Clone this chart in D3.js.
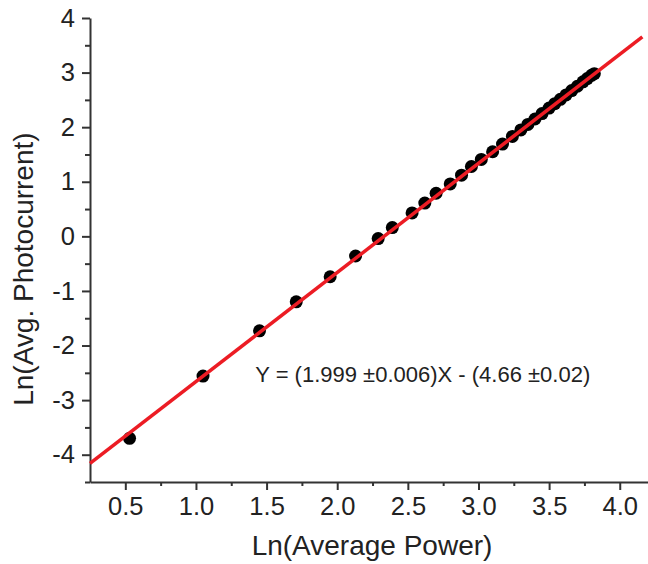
<!DOCTYPE html>
<html>
<head>
<meta charset="utf-8">
<script src="https://cdn.jsdelivr.net/npm/d3@7"></script>
<style>
  body { margin: 0; background: #fff; }
  svg text { font-family: "Liberation Sans", Arial, sans-serif; fill: #222; }
</style>
</head>
<body>
<div id="graph-container"></div>
<script>
// Data: Ln(average power) vs Ln(avg. photocurrent)
const lnPower = [0.53, 1.05, 1.45, 1.71, 1.95, 2.13, 2.29, 2.39, 2.53, 2.62, 2.70, 2.80, 2.88, 2.95,
    3.02, 3.10, 3.17, 3.24, 3.30, 3.35, 3.40, 3.45, 3.50, 3.54, 3.58, 3.62, 3.66, 3.70, 3.74, 3.77, 3.80, 3.82];
const lnCurrent = [-3.70, -2.56, -1.73, -1.20, -0.74, -0.36, -0.04, 0.16, 0.43, 0.61, 0.79, 0.96, 1.12, 1.28,
    1.41, 1.55, 1.69, 1.83, 1.95, 2.05, 2.15, 2.25, 2.35, 2.43, 2.51, 2.59, 2.67, 2.75, 2.83, 2.89, 2.95, 2.98];

// Linear fit: slope, intercept and the x range it is drawn over
const fitSlope = 1.999;
const fitIntercept = -4.66;
const fitRange = [0.25, 4.16];
const fitLabel = "Y = (1.999 \u00b10.006)X - (4.66 \u00b10.02)";

// Tick values and labels
const xTicks = [0.5, 1.0, 1.5, 2.0, 2.5, 3.0, 3.5, 4.0];
const xTickLabels = ["0.5", "1.0", "1.5", "2.0", "2.5", "3.0", "3.5", "4.0"];
const xMinor = [0.75, 1.25, 1.75, 2.25, 2.75, 3.25, 3.75];
const yTicks = [-4, -3, -2, -1, 0, 1, 2, 3, 4];
const yTickLabels = ["-4", "-3", "-2", "-1", "0", "1", "2", "3", "4"];
const yMinor = [-4.5, -3.5, -2.5, -1.5, -0.5, 0.5, 1.5, 2.5, 3.5];

const W = 648, H = 564;
const margin = { top: 18, right: 0, bottom: 82, left: 90 };
const width = W - margin.left - margin.right;
const height = H - margin.top - margin.bottom;

const x = d3.scaleLinear().domain([0.25, 4.2]).range([0, width]);
const y = d3.scaleLinear().domain([-4.5, 4]).range([height, 0]);

const svg = d3.select("#graph-container")
    .append("svg")
        .attr("width", W)
        .attr("height", H)
    .append("g")
        .attr("transform", `translate(${margin.left},${margin.top})`);

const axisColor = "#333";

// x axis: major + minor ticks
svg.append("g")
    .attr("transform", `translate(0,${height})`)
    .call(d3.axisBottom(x)
        .tickValues(xTicks)
        .tickSize(8)
        .tickSizeOuter(0)
        .tickPadding(7)
        .tickFormat((d, i) => xTickLabels[i]));
svg.append("g")
    .attr("transform", `translate(0,${height})`)
    .call(d3.axisBottom(x).tickValues(xMinor).tickSize(4).tickSizeOuter(0).tickFormat(""))
    .select(".domain").remove();

// y axis: major + minor ticks
svg.append("g")
    .call(d3.axisLeft(y)
        .tickValues(yTicks)
        .tickSize(8)
        .tickSizeOuter(0)
        .tickPadding(7)
        .tickFormat((d, i) => yTickLabels[i]));
svg.append("g")
    .call(d3.axisLeft(y).tickValues(yMinor).tickSize(5).tickSizeOuter(0).tickFormat(""))
    .select(".domain").remove();

svg.selectAll(".domain, .tick line")
    .attr("stroke", axisColor)
    .attr("stroke-width", 2);
svg.selectAll(".tick text")
    .attr("font-size", 25.5)
    .attr("fill", "#222")
    .style("font-family", "'Liberation Sans', Arial, sans-serif");

// axis titles
svg.append("text")
    .attr("x", width / 2 + 3)
    .attr("y", height + 73)
    .attr("text-anchor", "middle")
    .attr("font-size", 28)
    .text("Ln(Average Power)");

svg.append("text")
    .attr("transform", `translate(${-57},${y(-0.6)}) rotate(-90)`)
    .attr("text-anchor", "middle")
    .attr("font-size", 28)
    .text("Ln(Avg. Photocurrent)");

// data points
svg.append("g")
    .selectAll("circle")
    .data(lnPower)
    .join("circle")
        .attr("cx", d => x(d))
        .attr("cy", (d, i) => y(lnCurrent[i]))
        .attr("r", 6.5)
        .attr("fill", "#000");

// fit line
const line = d3.line()
    .x(d => x(d))
    .y(d => y(fitSlope * d + fitIntercept));
svg.append("path")
    .datum(fitRange)
    .attr("fill", "none")
    .attr("stroke", "#ec1c24")
    .attr("stroke-width", 3.5)
    .attr("d", line);

// fit equation
svg.append("text")
    .attr("x", x(1.42))
    .attr("y", y(-2.67))
    .attr("font-size", 22)
    .text(fitLabel);
</script>
</body>
</html>
